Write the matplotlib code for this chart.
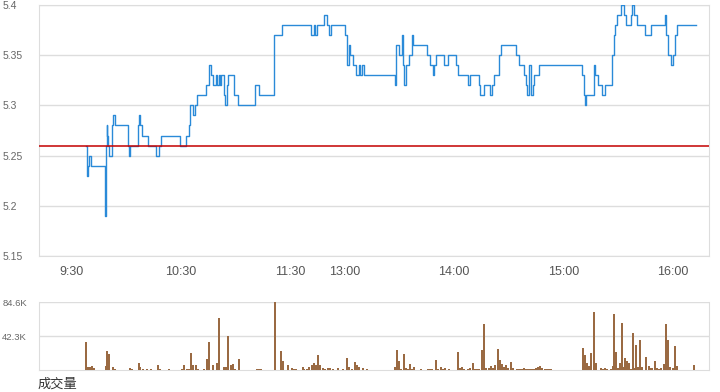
import matplotlib
matplotlib.use("Agg")
import matplotlib.pyplot as plt

plt.rcParams['font.family'] = ['Liberation Sans', 'DejaVu Sans']

# minutes after 9:30 (lunch break removed), price after each change
price_min = [7.7, 8.2, 8.6, 9.1, 9.7, 10.4, 18.3, 18.5, 18.8, 19.3, 19.6, 20.0, 20.7,
             22.3, 22.9, 23.8, 31.1, 31.4, 31.8, 36.3, 36.8, 37.5, 38.6, 42.1, 46.5,
             48.0, 49.1, 59.5, 62.8, 64.3, 65.0, 66.5, 67.7, 68.7, 73.6, 75.1, 75.6,
             76.5, 77.3, 79.3, 80.0, 80.8, 81.5, 82.0, 83.7, 84.4, 85.2, 85.7, 89.3,
             91.4, 100.9, 102.8, 110.8, 111.3, 115.7, 131.3, 132.8, 133.7, 134.6,
             138.8, 140.1, 141.2, 142.3, 150.3, 151.1, 152.2, 152.9, 154.7, 156.0,
             157.5, 158.5, 159.5, 160.5, 177.3, 178.0, 179.5, 181.3, 182.2, 182.7,
             183.5, 185.0, 186.8, 187.4, 195.0, 196.9, 198.4, 199.2, 200.2, 204.7,
             206.9, 211.2, 212.4, 217.6, 218.5, 223.4, 224.0, 226.2, 229.8, 230.8,
             231.7, 234.4, 236.0, 244.1, 245.4, 248.2, 249.6, 250.3, 251.4, 252.4,
             253.3, 254.0, 256.4, 280.2, 281.1, 281.7, 282.4, 286.8, 287.6, 289.0,
             291.2, 293.0, 296.5, 297.6, 298.4, 299.5, 301.6, 303.1, 304.2, 307.2,
             307.9, 308.7, 310.4, 314.7, 317.9, 325.6, 326.5, 327.6, 328.9, 330.2,
             331.3, 332.4, 342.9]
price_val = [5.26, 5.25, 5.23, 5.24, 5.25, 5.24, 5.22, 5.19, 5.26, 5.28, 5.27, 5.26, 5.25,
             5.28, 5.29, 5.28, 5.26, 5.25, 5.26, 5.28, 5.29, 5.28, 5.27, 5.26, 5.25,
             5.26, 5.27, 5.26, 5.27, 5.28, 5.30, 5.29, 5.30, 5.31, 5.32, 5.33, 5.34,
             5.33, 5.32, 5.33, 5.32, 5.33, 5.32, 5.33, 5.31, 5.30, 5.32, 5.33, 5.31,
             5.30, 5.32, 5.31, 5.35, 5.37, 5.38, 5.37, 5.38, 5.37, 5.38,
             5.39, 5.38, 5.37, 5.38, 5.37, 5.34, 5.36, 5.35, 5.34, 5.33,
             5.34, 5.33, 5.34, 5.33, 5.32, 5.36, 5.35, 5.37, 5.34, 5.32,
             5.34, 5.35, 5.37, 5.36, 5.35, 5.34, 5.33, 5.34, 5.35, 5.34,
             5.35, 5.34, 5.33, 5.32, 5.33, 5.32, 5.31, 5.32, 5.31, 5.32,
             5.33, 5.35, 5.36, 5.35, 5.34, 5.33, 5.32, 5.31, 5.34, 5.31,
             5.32, 5.33, 5.34, 5.33, 5.31, 5.30, 5.31, 5.34, 5.33, 5.32,
             5.31, 5.32, 5.35, 5.37, 5.38, 5.39, 5.40, 5.39, 5.38, 5.39,
             5.40, 5.39, 5.38, 5.37, 5.38, 5.39, 5.37, 5.35, 5.34, 5.35,
             5.37, 5.38, 5.38]
prev_close = 5.26

vol_min = [7.7, 8.8, 10.1, 11.3, 12.4, 18.7, 19.6, 20.7, 22.5, 23.8, 32.0, 33.0, 36.8,
           37.7, 39.0, 41.2, 43.4, 47.2, 48.3, 53.5, 60.4, 61.9, 63.2, 64.3, 65.4,
           66.8, 68.1, 69.4, 72.7, 74.2, 75.3, 77.5, 79.7, 81.1, 83.7, 84.8, 85.7,
           87.4, 88.5, 89.7, 91.8, 101.6, 102.7, 103.8, 111.5, 114.8, 115.9, 118.5,
           120.9, 121.8, 123.1, 126.9, 127.8, 129.1, 130.4, 131.9, 133.1, 134.2,
           135.2, 136.4, 137.9, 139.2, 140.7, 141.9, 143.4, 146.2, 149.2, 151.1,
           152.4, 153.8, 155.3, 156.6, 157.9, 159.9, 162.4, 177.6, 178.6, 179.7,
           180.9, 182.4, 183.5, 184.6, 185.7, 186.8, 188.1, 191.8, 195.6, 196.7,
           197.8, 200.0, 201.1, 202.7, 203.8, 205.1, 207.3, 212.1, 213.2, 214.1,
           215.2, 217.4, 218.5, 220.3, 221.6, 222.5, 223.4, 225.3, 226.4, 227.5,
           229.3, 230.4, 231.5, 232.7, 234.1, 235.2, 236.3, 237.5, 238.6, 239.6,
           241.2, 242.3, 244.4, 245.3, 246.4, 247.2, 248.4, 249.5, 250.7, 251.8,
           252.9, 254.0, 255.1, 256.2, 257.3, 258.4, 259.7, 260.8, 261.9, 263.0,
           280.8, 281.9, 283.0, 284.0, 285.2, 286.6, 287.7, 290.7, 291.8, 293.0,
           294.1, 296.2, 297.3, 298.0, 298.9, 300.0, 301.1, 302.2, 303.3, 304.0,
           305.0, 306.1, 307.1, 308.2, 309.0, 310.1, 311.2, 312.3, 313.3, 315.5,
           316.8, 317.7, 318.8, 320.3, 321.4, 322.5, 323.6, 325.4, 326.5, 327.6,
           328.7, 330.0, 331.3, 332.4, 341.5]
vol_k = [34.6, 4.2, 4.2, 4.6, 2.9, 5.0, 23.8, 20.0, 3.8, 1.3, 2.5, 1.3, 8.7,
         3.8, 1.7, 1.3, 1.3, 6.3, 1.3, 1.3, 1.3, 6.3, 1.3, 1.3, 21.3,
         6.3, 6.3, 1.3, 1.3, 13.7, 34.6, 6.3, 8.7, 64.6, 3.8, 3.8, 42.5,
         6.3, 7.5, 1.3, 13.7, 1.3, 1.3, 1.3, 84.6, 23.8, 11.3, 6.3,
         2.5, 1.3, 1.3, 3.8, 1.3, 1.3, 3.8, 6.3, 8.7, 6.3,
         18.8, 6.3, 2.1, 1.7, 2.1, 2.1, 1.3, 2.5, 1.3, 15.0,
         3.8, 1.3, 10.0, 6.3, 3.8, 2.1, 1.3, 3.8, 25.0, 11.3,
         1.3, 20.0, 2.1, 1.3, 7.5, 1.3, 3.8, 1.3, 1.3, 1.3,
         1.3, 12.5, 1.3, 3.8, 1.3, 2.5, 1.3, 22.5, 2.5, 3.8,
         1.3, 1.3, 2.5, 8.7, 1.3, 1.3, 1.3, 25.0, 57.5, 2.5,
         2.5, 5.0, 2.5, 6.3, 26.3, 12.5, 7.5, 3.8, 6.3, 2.5,
         10.0, 2.5, 1.3, 1.3, 1.3, 1.3, 2.5, 1.3, 1.3, 1.3,
         1.3, 1.3, 2.5, 3.8, 5.0, 2.5, 1.3, 1.3, 1.3, 1.3,
         27.5, 18.8, 8.7, 5.0, 21.3, 72.5, 8.7, 2.5, 1.3, 2.5,
         1.3, 1.3, 5.0, 70.0, 22.5, 2.5, 8.7, 58.8, 3.8, 15.0,
         11.3, 8.7, 1.3, 46.3, 2.5, 31.3, 3.8, 37.5, 3.8, 16.3,
         5.0, 2.5, 2.5, 11.3, 2.5, 1.3, 2.5, 7.5, 57.5, 37.5,
         3.8, 2.5, 29.5, 5.0, 6.3]

time_ticks = [0, 60, 120, 150, 210, 270, 330]
time_labels = ['9:30', '10:30', '11:30', '13:00', '14:00', '15:00', '16:00']
price_ticks = [5.15, 5.2, 5.25, 5.3, 5.35, 5.4]
price_labels = ['5.15', '5.2', '5.25', '5.3', '5.35', '5.4']
vol_ticks = [42.3, 84.6]
vol_labels = ['42.3K', '84.6K']

grid_c = '#dddddd'
W, H = 720, 392
fig = plt.figure(figsize=(W / 100, H / 100), dpi=100)

# price panel
ax = fig.add_axes([39 / W, 1 - 256 / H, 670 / W, 251 / H])
ax.step(price_min, price_val, where='post', color='#2a8ad8', lw=1.0, zorder=3)
ax.axhline(prev_close, color='#c40000', lw=1.1, zorder=4)
ax.set_xlim(-18, 350)
ax.set_ylim(5.15, 5.40)
ax.set_yticks(price_ticks)
ax.set_yticklabels(price_labels)
ax.set_xticks(time_ticks)
ax.set_xticklabels(time_labels)
ax.grid(axis='y', color=grid_c, lw=1.0)
ax.tick_params(axis='y', length=0, pad=26, labelsize=7.5, labelcolor='#666666')
for t in ax.get_yticklabels():
    t.set_horizontalalignment('left')
ax.tick_params(axis='x', length=0, pad=7, labelsize=9, labelcolor='#555555')
for s in ax.spines.values():
    s.set_color(grid_c)

# volume panel
axv = fig.add_axes([39 / W, 1 - 370 / H, 670 / W, 68 / H])
axv.bar(vol_min, vol_k, width=1.1, color='#9a6a43', zorder=3)
axv.set_xlim(-18, 350)
axv.set_ylim(0, 84.6)
axv.set_yticks(vol_ticks)
axv.set_yticklabels(vol_labels)
axv.set_xticks([])
axv.grid(axis='y', color=grid_c, lw=1.0)
axv.tick_params(axis='y', length=0, pad=26.5, labelsize=6.8, labelcolor='#666666')
for t in axv.get_yticklabels():
    t.set_horizontalalignment('left')
for s in axv.spines.values():
    s.set_color(grid_c)
axv.spines['top'].set_visible(False)

fig.text(38 / W, 1 - 384 / H, '成交量', family=['Noto Sans CJK SC', 'DejaVu Sans'],
         fontsize=9.5, color='#333333', va='center', ha='left')

fig.savefig('out.png', dpi=100)
